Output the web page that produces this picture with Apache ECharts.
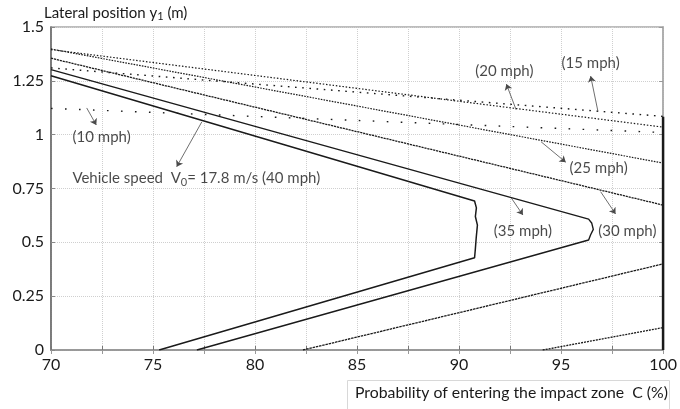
<!DOCTYPE html>
<html><head><meta charset="utf-8">
<script src="https://cdn.jsdelivr.net/npm/echarts/dist/echarts.min.js"></script>
<style>html,body{margin:0;padding:0;background:#fff}#c{width:680px;height:409px}</style>
</head><body><div id="c"></div>
<script>
// ---- data (C in %, lateral position y1 in m) ----
const speed10 = [[70,1.122],[100,1.01]];
const speed15 = [[70,1.31],[100,1.085]];
const speed20 = [[70,1.395],[100,1.035]];
const speed25 = [[70,1.398],[100,0.868]];
const speed25Return = [[94.1,0],[100,0.104]];
const speed30 = [[70,1.355],[100,0.673]];
const speed30Return = [[82.35,0],[100,0.40]];
const speed35 = [[70,1.302],[96.35,0.608],[96.5,0.59],[96.58,0.56],[96.45,0.535],[96.35,0.511],[77.15,0]];
const speed40 = [[70,1.274],[90.76,0.692],[90.85,0.66],[90.8,0.62],[90.9,0.58],[90.84,0.52],[90.8,0.47],[90.76,0.428],[75.3,0]];
const edge100 = [[100,1.083],[100,0]];

const xTickLabels = [70,75,80,85,90,95,100];
const yTickLabels = [0,0.25,0.5,0.75,1,1.25,1.5];

const annotTexts = ['(10 mph)','Vehicle speed  V{sub|0}= 17.8 m/s (40 mph)','(20 mph)','(15 mph)','(25 mph)','(35 mph)','(30 mph)'];
const annotPos = [[72.48,0.99],[71.05,0.797],[92.22,1.296],[96.45,1.331],[96.84,0.844],[93.13,0.553],[98.25,0.553]];
const annotAlign = ['center','left','center','center','center','center','center'];
const arrowFrom = [[71.75,1.124],[77.39,1.059],[92.80,1.115],[96.81,1.107],[94.02,0.967],[92.56,0.706],[96.94,0.735]];
const arrowTo = [[72.22,1.045],[76.16,0.851],[92.32,1.235],[96.45,1.272],[95.23,0.872],[93.13,0.627],[97.67,0.632]];

const FONT = 'Lato, "Open Sans", sans-serif';
const INK = '#1a1a1a';

function lineSeries(data, type, width){
  return {type:'line', data:data, showSymbol:false, symbol:'none', silent:true,
    lineStyle:{color:INK, width:width||1.2, type:type||'solid'}, z:3};
}

const chart = echarts.init(document.getElementById('c'));
chart.setOption({
  animation:false,
  grid:{left:51, top:27, right:12, bottom:59, show:true, borderColor:'#a8a8a8', borderWidth:1.5, backgroundColor:'#fff'},
  xAxis:[{
    type:'value', min:70, max:100, interval:2.5,
    axisLine:{lineStyle:{color:'#555', width:1.5}},
    axisTick:{inside:true, length:4, lineStyle:{color:'#777'}},
    axisLabel:{color:INK, fontSize:16, fontFamily:FONT, margin:7,
      formatter:function(v){return xTickLabels.indexOf(v)>=0 ? String(v) : '';}},
    splitLine:{lineStyle:{color:'#cfcfcf', type:[1,1], width:1}}
  },{
    type:'value', position:'top', min:70, max:100, interval:2.5,
    axisLine:{lineStyle:{color:'#a8a8a8', width:1.5}},
    axisTick:{inside:true, length:4, lineStyle:{color:'#999'}},
    axisLabel:{show:false}, splitLine:{show:false}
  }],
  yAxis:[{
    type:'value', min:0, max:1.5, interval:0.25,
    axisLine:{show:true, lineStyle:{color:'#666', width:1.5}},
    axisTick:{show:true, inside:true, length:4, lineStyle:{color:'#888'}},
    axisLabel:{color:INK, fontSize:16, fontFamily:FONT, margin:7,
      formatter:function(v){return yTickLabels.indexOf(v)>=0 ? String(v) : '';}},
    splitLine:{lineStyle:{color:'#cfcfcf', type:[1,1], width:1}}
  },{
    type:'value', position:'right', min:0, max:1.5, interval:0.25,
    axisLine:{show:true, lineStyle:{color:'#a8a8a8', width:1.5}},
    axisTick:{show:true, inside:true, length:4, lineStyle:{color:'#999'}},
    axisLabel:{show:false}, splitLine:{show:false}
  }],
  series:[
    lineSeries(speed10, [1.6,12.4], 1.4),
    lineSeries(speed15, [1.6,5.6], 1.4),
    lineSeries(speed20, [1.5,1.8], 1.2),
    lineSeries(speed25, [1.6,1.2], 1.2),
    lineSeries(speed25Return, [2,1], 1.3),
    lineSeries(speed30, [2.2,0.8], 1.3),
    lineSeries(speed30Return, [2.5,0.8], 1.3),
    lineSeries(speed35, 'solid', 1.4),
    lineSeries(speed40, 'solid', 1.5),
    lineSeries(edge100, 'solid', 2.5),
    {
      type:'lines', coordinateSystem:'cartesian2d', silent:true, z:4,
      symbol:['none','arrow'], symbolSize:6,
      lineStyle:{color:'#4a4a4a', width:0.8, opacity:1},
      data: arrowFrom.map(function(p,i){return {coords:[p, arrowTo[i]]};})
    },
    {
      type:'scatter', silent:true, z:5, symbolSize:1,
      itemStyle:{color:'rgba(0,0,0,0)'},
      data: annotPos.map(function(p,i){
        return {value:p, name:annotTexts[i], label:{align:annotAlign[i]}};
      }),
      label:{show:true, position:'inside', formatter:'{b}', color:INK, fontSize:15, fontFamily:FONT,
        verticalAlign:'middle', lineHeight:19,
        rich:{sub:{fontSize:11, fontFamily:FONT, color:INK, verticalAlign:'bottom', lineHeight:19, padding:[7,0,0,0]}}}
    }
  ],
  graphic:[
    {type:'text', x:44, y:13, style:{
      text:'Lateral position y{s|1} (m)', fill:INK, font:'15px '+FONT, verticalAlign:'middle', align:'left',
      rich:{s:{fontSize:11, fontFamily:FONT, fill:INK, verticalAlign:'bottom', padding:[7,0,0,0]}}}},
    {type:'rect', shape:{x:347.5, y:380.5, width:322, height:40}, style:{fill:'#fff', stroke:'#d8d8d8', lineWidth:1}},
    {type:'text', x:355, y:393, style:{text:'Probability of entering the impact zone  C (%)', fill:INK, font:'15.8px '+FONT, verticalAlign:'middle', align:'left'}}
  ]
});
</script></body></html>
